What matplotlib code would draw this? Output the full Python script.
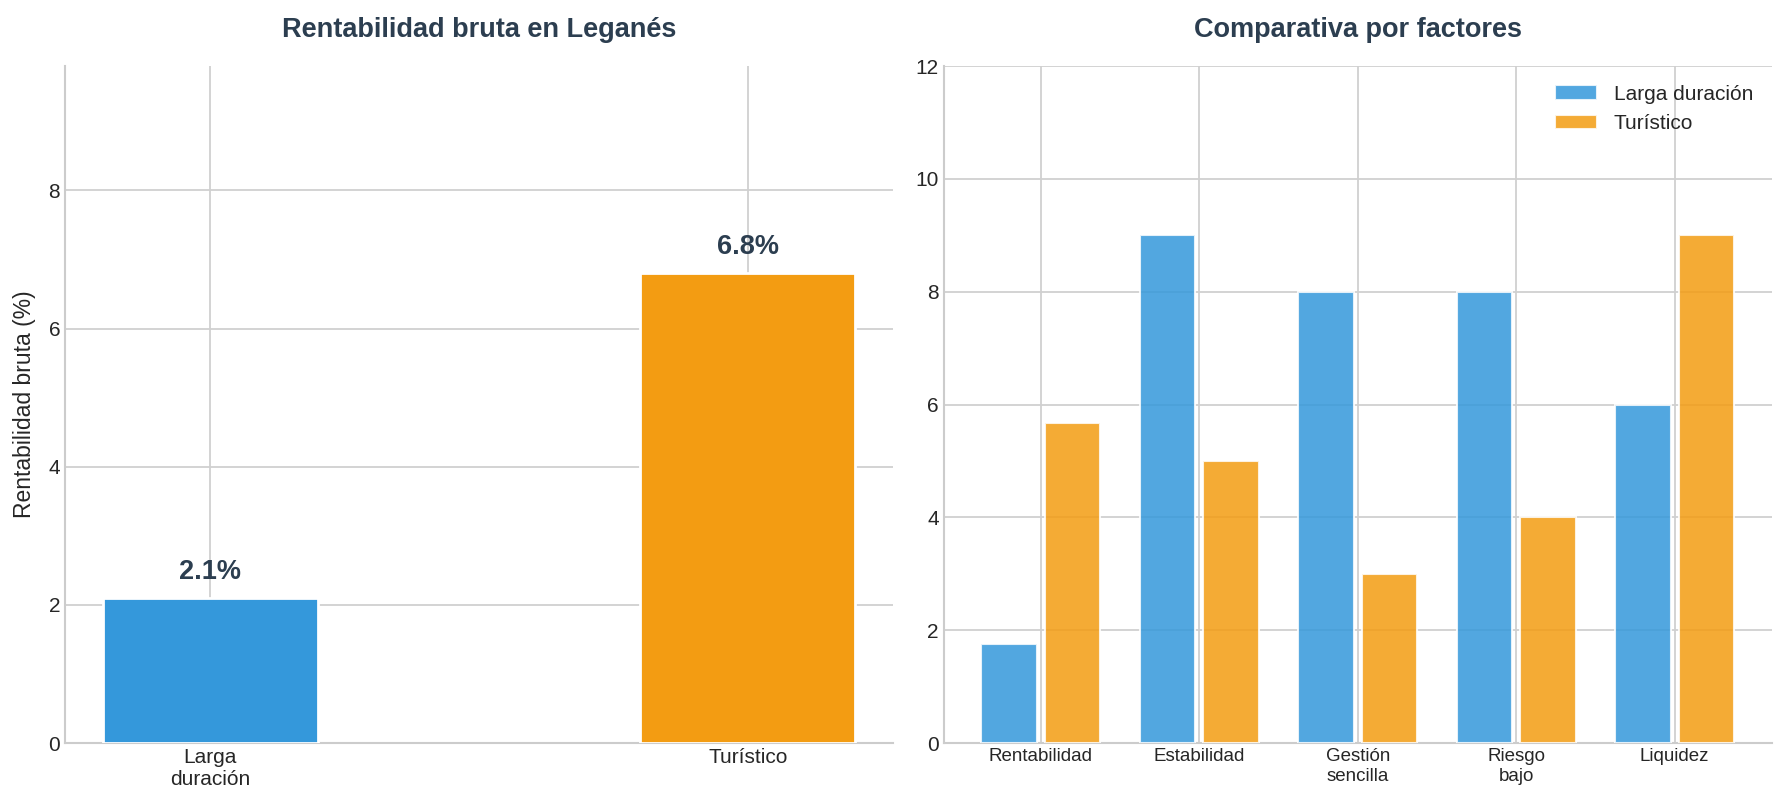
import numpy as np
import matplotlib
matplotlib.use("Agg")
import matplotlib.pyplot as plt

# data
tipos = ["Larga\nduración", "Turístico"]
rentabilidad = [2.1, 6.8]

factores = ["Rentabilidad", "Estabilidad", "Gestión\nsencilla", "Riesgo\nbajo", "Liquidez"]
larga = [1.75, 9, 8, 8, 6]
turistico = [5.67, 5, 3, 4, 9]

azul = "#3498db"
naranja = "#f39c12"
oscuro = "#2c3e50"

plt.style.use("seaborn-v0_8-whitegrid")
plt.rcParams["font.family"] = ["Liberation Sans", "DejaVu Sans"]
plt.rcParams["axes.edgecolor"] = "#cccccc"
plt.rcParams["grid.color"] = "#d0d0d0"
plt.rcParams["text.color"] = "#262626"
plt.rcParams["xtick.color"] = "#262626"
plt.rcParams["ytick.color"] = "#262626"

fig, (ax1, ax2) = plt.subplots(1, 2, figsize=(17.86, 8.06), dpi=100)
fig.subplots_adjust(left=0.0364, right=0.992, bottom=0.078, top=0.918, wspace=0.0613)

# Panel izquierdo
x = np.arange(len(tipos))
ax1.bar(x, rentabilidad, width=0.4, color=[azul, naranja], edgecolor="white", linewidth=2, zorder=3)
for i, v in enumerate(rentabilidad):
    ax1.text(i, v + 0.19, f"{v}%", ha="center", va="bottom", fontsize=19.5,
             fontweight="bold", color=oscuro, zorder=4)
ax1.set_xticks(x)
ax1.set_xticklabels(tipos, fontsize=15)
ax1.set_ylim(0, 9.8)
ax1.set_yticks([0, 2, 4, 6, 8])
ax1.tick_params(axis="y", labelsize=15)
ax1.set_ylabel("Rentabilidad bruta (%)", fontsize=16.5, labelpad=9)
ax1.set_title("Rentabilidad bruta en Leganés", fontsize=19.5, fontweight="bold", color=oscuro, pad=21)

# Panel derecho
xf = np.arange(len(factores))
ax2.bar(xf - 0.2, larga, width=0.35, color=azul, alpha=0.85, edgecolor="white", linewidth=1.5,
        label="Larga duración", zorder=3)
ax2.bar(xf + 0.2, turistico, width=0.35, color=naranja, alpha=0.85, edgecolor="white", linewidth=1.5,
        label="Turístico", zorder=3)
ax2.set_xticks(xf)
ax2.set_xticklabels(factores, fontsize=13.5)
ax2.set_ylim(0, 12)
ax2.tick_params(axis="y", labelsize=15)
ax2.set_title("Comparativa por factores", fontsize=19.5, fontweight="bold", color=oscuro, pad=21)
ax2.legend(loc="upper right", fontsize=15, frameon=False)

for ax in (ax1, ax2):
    ax.spines["top"].set_visible(False)
    ax.spines["right"].set_visible(False)
    ax.spines["left"].set_linewidth(1.5)
    ax.spines["bottom"].set_linewidth(1.5)
    ax.grid(True, linewidth=1.3)
    ax.set_axisbelow(True)

fig.savefig("out.png", dpi=100)
